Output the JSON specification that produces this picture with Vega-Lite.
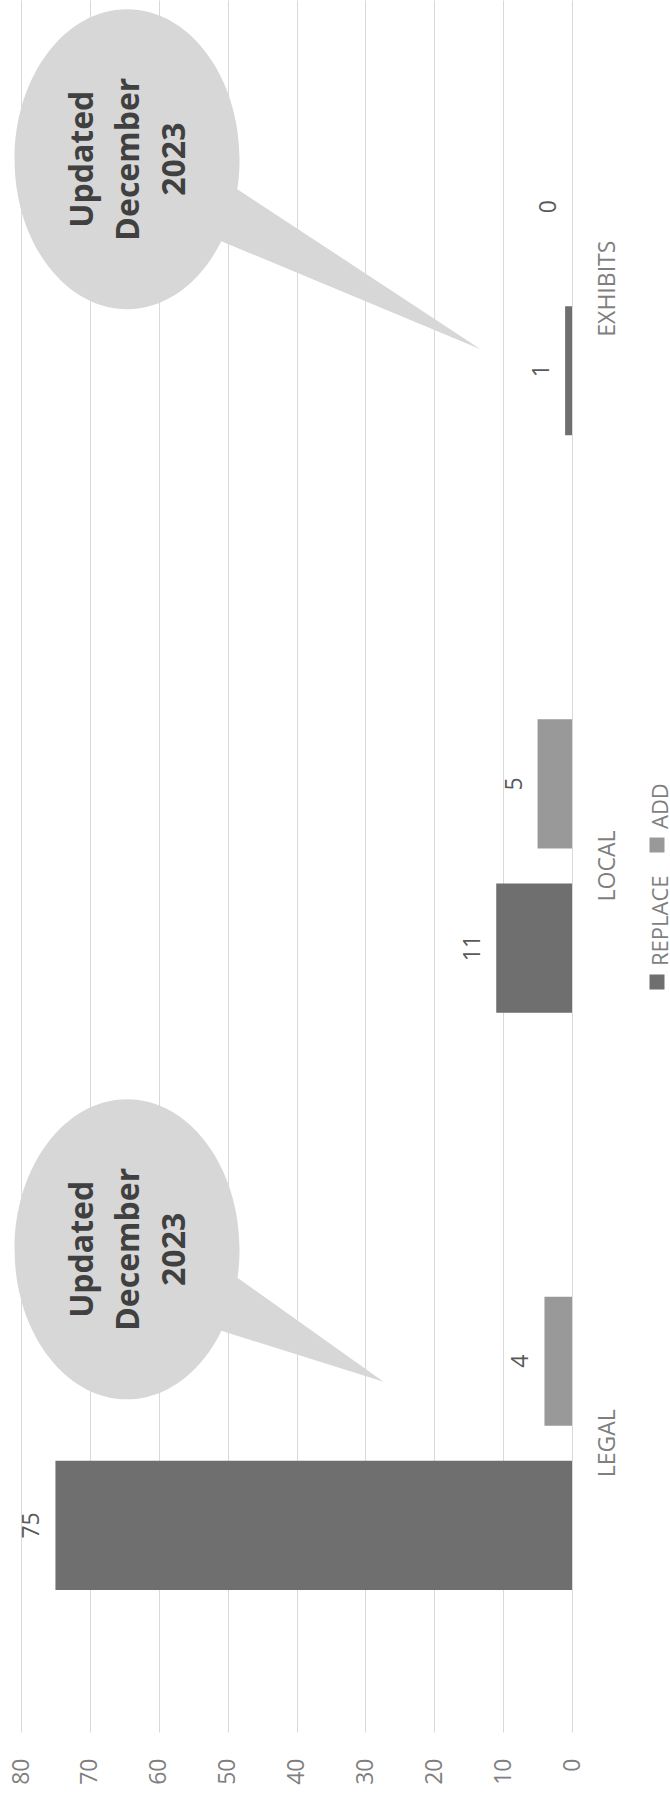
{
  "$schema": "https://vega.github.io/schema/vega-lite/v6.json",
  "width": 551,
  "height": 1732,
  "autosize": "none",
  "padding": {"left": 21, "top": 0, "right": 98, "bottom": 62},
  "background": "white",
  "config": {"view": {"stroke": null}, "font": "Open Sans"},
  "layer": [
    {
      "data": {"values": [
        {"category": "LEGAL", "series": "REPLACE", "value": 75},
        {"category": "LEGAL", "series": "ADD", "value": 4},
        {"category": "LOCAL", "series": "REPLACE", "value": 11},
        {"category": "LOCAL", "series": "ADD", "value": 5},
        {"category": "EXHIBITS", "series": "REPLACE", "value": 1},
        {"category": "EXHIBITS", "series": "ADD", "value": 0}
      ]},
      "encoding": {
        "y": {"field": "category", "type": "nominal", "sort": ["EXHIBITS", "LOCAL", "LEGAL"],
          "scale": {"paddingInner": 0.492, "paddingOuter": 0.246},
          "axis": {"orient": "right", "title": null, "labelAngle": -90, "labelAlign": "center", "labelBaseline": "top", "labelPadding": 24, "ticks": false, "domain": false, "grid": false, "labelFontSize": 23, "labelColor": "#7f7f7f", "labelFont": "Open Sans"}},
        "x": {"field": "value", "type": "quantitative",
          "scale": {"domain": [0, 80], "reverse": true, "nice": false},
          "axis": {"values": [0, 10, 20, 30, 40, 50, 60, 70, 80], "title": null, "labelAngle": -90, "labelAlign": "right", "labelBaseline": "middle", "labelPadding": 26, "labelFlush": false, "labelOverlap": false, "ticks": false, "domain": false, "grid": true, "gridColor": "#d9d9d9", "gridWidth": 1, "labelFontSize": 23, "labelColor": "#7f7f7f", "labelFont": "Open Sans"}},
        "yOffset": {"field": "series", "sort": ["ADD", "REPLACE"], "scale": {"paddingInner": 0.213, "paddingOuter": 0}}
      },
      "layer": [
        {
          "mark": {"type": "bar"},
          "encoding": {
            "color": {"field": "series", "type": "nominal",
              "scale": {"domain": ["ADD", "REPLACE"], "range": ["#999999", "#6f6f6f"]},
              "legend": {"title": null, "orient": "none", "legendX": 625, "legendY": 834, "direction": "vertical",
                "symbolType": "square", "symbolSize": 225, "symbolStrokeWidth": 0, "labelFontSize": 22, "labelColor": "#7f7f7f", "labelFont": "Open Sans",
                "labelOffset": -7.5, "rowPadding": 22, "padding": 0,
                "encode": {"labels": {"update": {"angle": {"value": -90}, "align": {"value": "left"}, "baseline": {"value": "middle"}, "dx": {"value": 16}}}}}
            }
          }
        },
        {
          "mark": {"type": "text", "angle": -90, "align": "center", "baseline": "alphabetic", "dy": -16, "fontSize": 23, "color": "#595959", "font": "Open Sans"},
          "encoding": {"text": {"field": "value", "type": "quantitative"}}
        }
      ]
    },
    {
      "data": {"values": [{"category": "EXHIBITS", "value": 64.6, "note": "Updated\nDecember\n2023"}]},
      "encoding": {
        "y": {"field": "category", "type": "nominal", "sort": ["EXHIBITS", "LOCAL", "LEGAL"]},
        "x": {"field": "value", "type": "quantitative"}
      },
      "layer": [
        {"mark": {"type": "point", "shape": "M0.3125,0 C0.3125,0.2301 0.1726,0.4167 0,0.4167 C-0.1726,0.4167 -0.3125,0.2301 -0.3125,0 C-0.3125,-0.2301 -0.1726,-0.4167 0,-0.4167 C0.1726,-0.4167 0.3125,-0.2301 0.3125,0 Z M0.3061,0.0833 L0.9819,0.5278 L0.2617,0.2278 L0.1944,0.125 Z", "size": 518400, "filled": true, "color": "#d7d7d7", "fill": "#d7d7d7", "opacity": 1, "strokeWidth": 0, "yOffset": -129.5}},
        {"mark": {"type": "text", "angle": -90, "align": "center", "baseline": "middle", "fontSize": 32, "fontWeight": "bold", "color": "#404040", "lineHeight": 46, "lineBreak": "\n", "font": "Open Sans", "xOffset": -44, "yOffset": -129.5},
         "encoding": {"text": {"field": "note", "type": "nominal"}}}
      ]
    },
    {
      "data": {"values": [{"category": "LEGAL", "value": 64.6, "note": "Updated\nDecember\n2023"}]},
      "encoding": {
        "y": {"field": "category", "type": "nominal", "sort": ["EXHIBITS", "LOCAL", "LEGAL"]},
        "x": {"field": "value", "type": "quantitative"}
      },
      "layer": [
        {"mark": {"type": "point", "shape": "M0.3125,0 C0.3125,0.2301 0.1726,0.4167 0,0.4167 C-0.1726,0.4167 -0.3125,0.2301 -0.3125,0 C-0.3125,-0.2301 -0.1726,-0.4167 0,-0.4167 C0.1726,-0.4167 0.3125,-0.2301 0.3125,0 Z M0.3067,0.0792 L0.7125,0.3681 L0.2622,0.2264 L0.1944,0.125 Z", "size": 518400, "filled": true, "color": "#d7d7d7", "fill": "#d7d7d7", "opacity": 1, "strokeWidth": 0, "yOffset": -194}},
        {"mark": {"type": "text", "angle": -90, "align": "center", "baseline": "middle", "fontSize": 32, "fontWeight": "bold", "color": "#404040", "lineHeight": 46, "lineBreak": "\n", "font": "Open Sans", "xOffset": -44, "yOffset": -194},
         "encoding": {"text": {"field": "note", "type": "nominal"}}}
      ]
    }
  ]
}
